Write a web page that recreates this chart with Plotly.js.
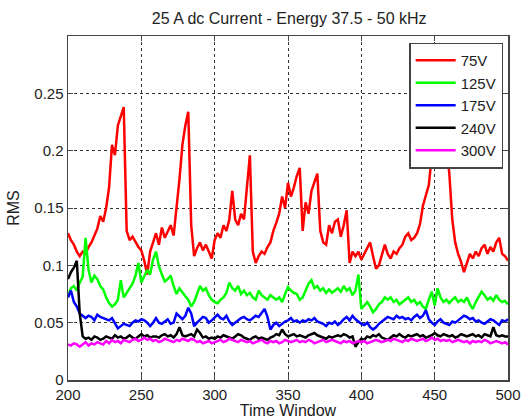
<!DOCTYPE html>
<html>
<head>
<meta charset="utf-8">
<script src="https://cdn.plot.ly/plotly-3.0.1.min.js"></script>
<style>html,body{margin:0;padding:0;background:#fff;}#chart{width:523px;height:420px;}</style>
</head>
<body>
<div id="chart"></div>
<script>
// Time window samples start at 200, step 2
var xStart = 200;
var xStep = 2;
var seriesNames = ["75V", "125V", "175V", "240V", "300V"];
var seriesColors = ["#ff0000", "#00ff00", "#0000ff", "#000000", "#ff00ff"];

var rms75 = [
0.128,0.122,0.118,0.112,0.108,0.112,0.110,0.116,0.120,0.126,
0.132,0.143,0.138,0.150,0.168,0.205,0.196,0.222,0.230,0.238,
0.130,0.122,0.125,0.120,0.116,0.113,0.104,0.092,0.112,0.120,
0.128,0.118,0.133,0.124,0.130,0.135,0.126,0.150,0.175,0.205,
0.222,0.234,0.135,0.108,0.115,0.120,0.113,0.118,0.112,0.106,
0.122,0.128,0.124,0.135,0.130,0.140,0.165,0.140,0.135,0.145,
0.140,0.170,0.196,0.112,0.102,0.108,0.112,0.110,0.116,0.120,
0.130,0.137,0.145,0.160,0.150,0.172,0.160,0.168,0.178,0.185,
0.130,0.155,0.145,0.165,0.172,0.180,0.130,0.120,0.118,0.135,
0.128,0.138,0.140,0.125,0.135,0.148,0.102,0.112,0.108,0.112,
0.105,0.110,0.115,0.120,0.108,0.097,0.100,0.108,0.118,0.110,
0.106,0.112,0.110,0.115,0.118,0.125,0.128,0.122,0.124,0.128,
0.136,0.152,0.160,0.170,0.195,0.200,0.205,0.195,0.200,0.205,
0.180,0.140,0.120,0.110,0.103,0.094,0.102,0.110,0.106,0.112,
0.108,0.115,0.118,0.110,0.116,0.112,0.120,0.124,0.110,0.108,
0.104];

var rms125 = [
0.074,0.080,0.082,0.078,0.085,0.090,0.124,0.096,0.085,0.091,
0.088,0.082,0.079,0.072,0.067,0.064,0.066,0.070,0.087,0.072,
0.076,0.080,0.084,0.091,0.102,0.085,0.090,0.096,0.092,0.105,
0.112,0.099,0.092,0.086,0.088,0.091,0.082,0.075,0.080,0.076,
0.073,0.070,0.064,0.068,0.076,0.082,0.078,0.080,0.074,0.070,
0.068,0.067,0.070,0.072,0.076,0.085,0.080,0.078,0.082,0.075,
0.078,0.074,0.076,0.072,0.070,0.078,0.074,0.072,0.070,0.074,
0.072,0.070,0.072,0.068,0.075,0.081,0.078,0.076,0.075,0.070,
0.072,0.078,0.084,0.087,0.080,0.082,0.078,0.080,0.076,0.079,
0.076,0.078,0.080,0.077,0.082,0.078,0.080,0.074,0.078,0.092,
0.062,0.065,0.068,0.064,0.059,0.062,0.066,0.068,0.072,0.070,
0.072,0.068,0.070,0.066,0.068,0.070,0.072,0.068,0.070,0.066,
0.068,0.064,0.062,0.070,0.077,0.065,0.080,0.072,0.068,0.070,
0.067,0.070,0.072,0.068,0.070,0.068,0.072,0.066,0.062,0.068,
0.072,0.077,0.074,0.070,0.072,0.069,0.074,0.070,0.068,0.069,
0.066];

var rms175 = [
0.072,0.078,0.068,0.064,0.058,0.056,0.054,0.056,0.055,0.052,
0.057,0.055,0.054,0.053,0.052,0.054,0.050,0.045,0.047,0.049,
0.048,0.047,0.050,0.052,0.051,0.053,0.052,0.050,0.047,0.050,
0.054,0.050,0.049,0.051,0.053,0.049,0.050,0.058,0.055,0.053,
0.056,0.063,0.058,0.047,0.050,0.053,0.055,0.054,0.050,0.052,
0.055,0.057,0.054,0.053,0.056,0.051,0.048,0.050,0.052,0.054,
0.055,0.053,0.052,0.054,0.056,0.055,0.058,0.062,0.055,0.044,
0.048,0.050,0.047,0.049,0.051,0.052,0.054,0.051,0.052,0.050,
0.052,0.051,0.053,0.052,0.054,0.051,0.050,0.049,0.047,0.050,
0.049,0.051,0.048,0.050,0.053,0.055,0.052,0.056,0.053,0.051,
0.049,0.048,0.050,0.046,0.044,0.046,0.049,0.051,0.053,0.055,
0.054,0.053,0.056,0.054,0.055,0.053,0.054,0.052,0.055,0.057,
0.054,0.056,0.061,0.053,0.050,0.048,0.051,0.053,0.050,0.049,
0.048,0.051,0.050,0.052,0.054,0.056,0.055,0.053,0.054,0.051,
0.052,0.050,0.049,0.051,0.053,0.052,0.050,0.048,0.052,0.051,
0.053];

var rms240 = [
0.088,0.094,0.098,0.104,0.058,0.038,0.036,0.037,0.035,0.038,
0.037,0.035,0.036,0.038,0.037,0.036,0.039,0.037,0.038,0.036,
0.037,0.039,0.037,0.036,0.038,0.040,0.038,0.039,0.037,0.038,
0.038,0.037,0.039,0.040,0.038,0.039,0.037,0.040,0.046,0.039,
0.038,0.039,0.040,0.038,0.044,0.041,0.037,0.038,0.036,0.037,
0.036,0.038,0.037,0.039,0.038,0.037,0.036,0.038,0.040,0.039,
0.037,0.036,0.035,0.037,0.038,0.036,0.037,0.036,0.035,0.037,
0.038,0.040,0.039,0.044,0.040,0.038,0.039,0.040,0.038,0.039,
0.038,0.037,0.039,0.040,0.041,0.039,0.038,0.037,0.036,0.038,
0.037,0.038,0.039,0.038,0.040,0.039,0.037,0.038,0.029,0.033,
0.036,0.035,0.038,0.037,0.039,0.038,0.040,0.037,0.036,0.035,
0.037,0.039,0.038,0.040,0.038,0.037,0.039,0.038,0.039,0.040,
0.038,0.039,0.037,0.038,0.039,0.041,0.039,0.038,0.040,0.039,
0.038,0.039,0.037,0.038,0.040,0.039,0.038,0.039,0.040,0.038,
0.039,0.037,0.040,0.039,0.038,0.046,0.039,0.038,0.039,0.038,
0.038];

var rms300 = [
0.031,0.030,0.032,0.031,0.029,0.031,0.033,0.030,0.032,0.031,
0.033,0.032,0.031,0.034,0.032,0.035,0.033,0.034,0.032,0.035,
0.034,0.033,0.035,0.036,0.034,0.035,0.037,0.035,0.036,0.034,
0.035,0.033,0.034,0.036,0.035,0.034,0.033,0.035,0.034,0.036,
0.035,0.034,0.036,0.035,0.033,0.034,0.032,0.033,0.034,0.032,
0.033,0.034,0.035,0.033,0.034,0.036,0.035,0.034,0.033,0.035,
0.034,0.033,0.034,0.032,0.033,0.034,0.035,0.033,0.032,0.034,
0.033,0.034,0.032,0.033,0.035,0.034,0.033,0.034,0.035,0.033,
0.034,0.033,0.035,0.034,0.032,0.033,0.034,0.035,0.033,0.034,
0.035,0.034,0.033,0.032,0.034,0.033,0.034,0.032,0.033,0.034,
0.033,0.034,0.032,0.033,0.034,0.035,0.034,0.033,0.034,0.035,
0.034,0.036,0.035,0.034,0.033,0.035,0.034,0.036,0.035,0.034,
0.035,0.036,0.034,0.035,0.037,0.035,0.036,0.034,0.035,0.034,
0.035,0.033,0.034,0.035,0.034,0.033,0.034,0.032,0.034,0.033,
0.034,0.033,0.035,0.034,0.032,0.033,0.034,0.033,0.032,0.033,
0.031];

var xTickVals = [200, 250, 300, 350, 400, 450, 500];
var xTickText = ["200", "250", "300", "350", "400", "450", "500"];
var yTickVals = [0, 0.05, 0.1, 0.15, 0.2, 0.25];
var yTickText = ["0", "0.05", "0.1", "0.15", "0.2", "0.25"];

var allSeries = [rms75, rms125, rms175, rms240, rms300];
var traces = allSeries.map(function (vals, k) {
  var xs = vals.map(function (_, i) { return xStart + i * xStep; });
  return {
    x: xs, y: vals, type: "scatter", mode: "lines", name: seriesNames[k],
    line: {color: seriesColors[k], width: 2.5}
  };
});

var font = "Liberation Sans, Arial, sans-serif";
var axisCommon = {
  showline: true, linecolor: "#444", linewidth: 1.5, mirror: "ticks",
  ticks: "inside", ticklen: 5, tickcolor: "#444",
  showgrid: true, gridcolor: "#333", griddash: "dot", gridwidth: 1,
  zeroline: false, tickfont: {family: font, size: 15, color: "#222"}
};

var layout = {
  width: 523, height: 420,
  margin: {l: 68, r: 15, t: 36, b: 40},
  paper_bgcolor: "#fff", plot_bgcolor: "#fff",
  title: {text: "25 A dc Current - Energy 37.5 - 50 kHz", font: {family: font, size: 16, color: "#222"}, x: 0.553, xanchor: "center", y: 0.957, yanchor: "middle"},
  xaxis: Object.assign({}, axisCommon, {
    range: [200, 500], tickvals: xTickVals, ticktext: xTickText,
    title: {text: "Time Window", font: {family: font, size: 16, color: "#222"}, standoff: 3}
  }),
  yaxis: Object.assign({}, axisCommon, {
    range: [0, 0.3], tickvals: yTickVals, ticktext: yTickText,
    title: {text: "RMS", font: {family: font, size: 16, color: "#222"}, standoff: 10}
  }),
  legend: {
    x: 0.989, xanchor: "right", y: 0.981, yanchor: "top",
    bgcolor: "#fff", bordercolor: "#444", borderwidth: 1.5,
    font: {family: font, size: 15, color: "#222"}, tracegroupgap: 0,
    itemwidth: 40
  },
  showlegend: true
};

Plotly.newPlot("chart", traces, layout, {displayModeBar: false, staticPlot: true});
</script>
</body>
</html>
